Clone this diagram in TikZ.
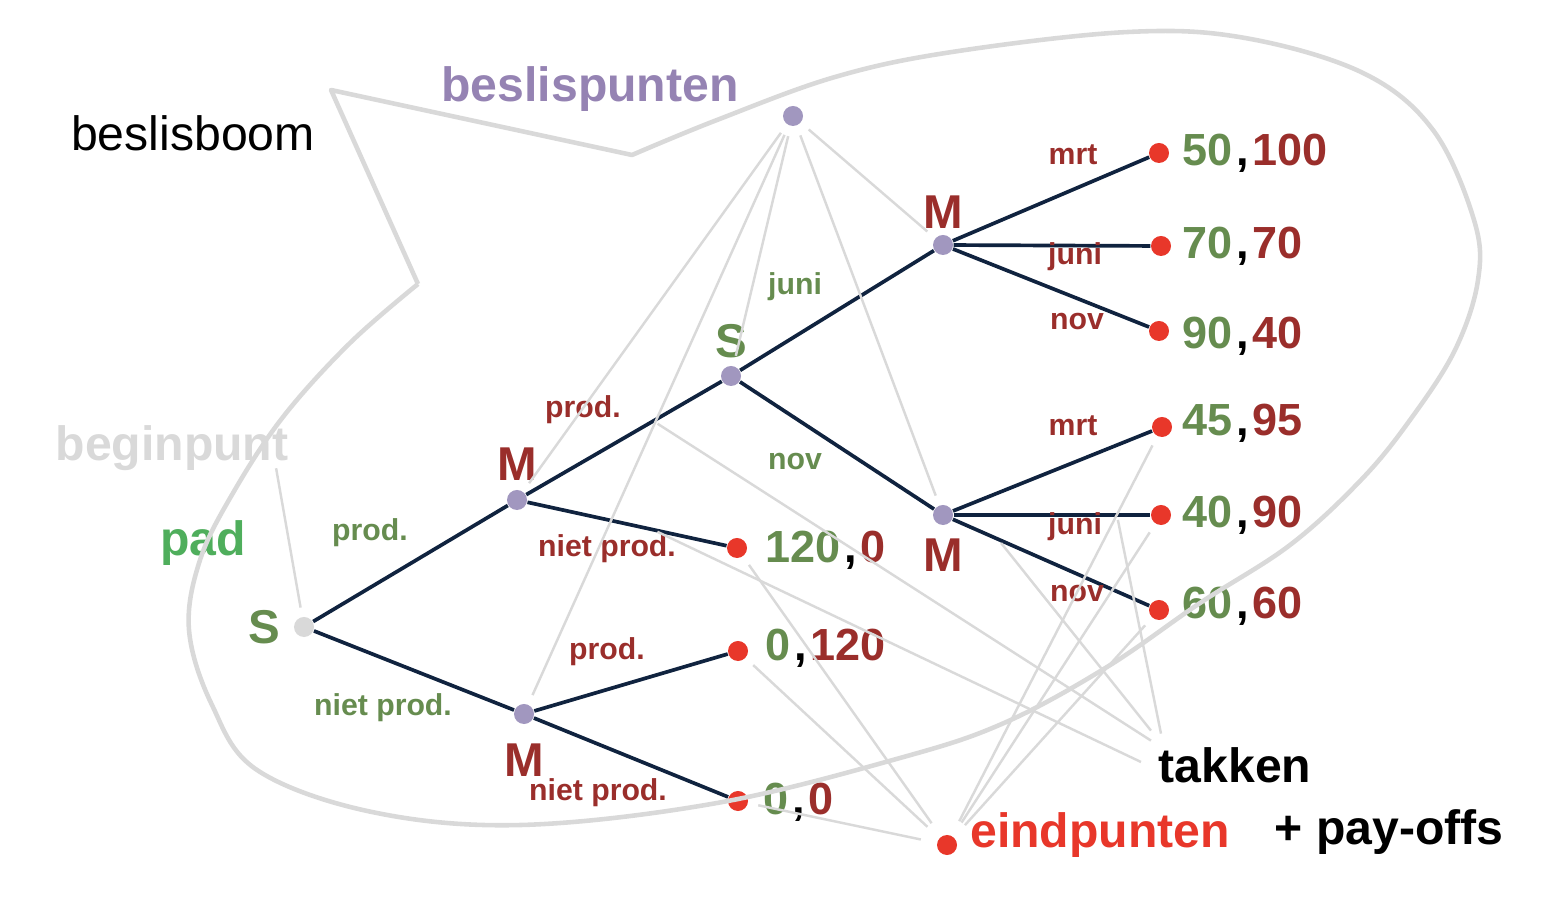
\documentclass[tikz,border=0pt]{standalone}
\usepackage{fontspec}
\setmainfont{Liberation Sans}
\usetikzlibrary{positioning}
\definecolor{navy}{HTML}{10233F}
\definecolor{lila}{HTML}{A197BF}
\definecolor{lilatekst}{HTML}{9583B3}
\definecolor{rood}{HTML}{E8372A}
\definecolor{sgroen}{HTML}{668C4F}
\definecolor{mrood}{HTML}{9A2E2B}
\definecolor{padgroen}{HTML}{4FAE5C}
\definecolor{grijs}{HTML}{D9D9D9}
\newcommand{\uitb}[2]{\textcolor{sgroen}{#1}\kern0.08em,\kern0.08em\textcolor{mrood}{#2}}
\tikzset{
  beslis/.style={circle,fill=lila,inner sep=0pt,minimum size=0.2cm},
  eind/.style={circle,fill=rood,inner sep=0pt,minimum size=0.2cm},
  begin/.style={circle,fill=grijs,inner sep=0pt,minimum size=0.2cm},
  tak/.style={navy,line width=1.05pt},
  wijzer/.style={grijs,line width=0.7pt},
  bel/.style={grijs,line width=1.3pt,line join=round},
  klein/.style={font=\fontsize{8.6}{10}\selectfont\bfseries,inner sep=0pt},
  groot/.style={font=\fontsize{13.7}{16}\selectfont\bfseries,inner sep=0pt},
  speler/.style={font=\fontsize{13.5}{15}\selectfont\bfseries,inner sep=0pt},
  pay/.style={font=\fontsize{12.8}{15}\selectfont\bfseries,inner sep=0pt,anchor=west},
}
\begin{document}
\begin{tikzpicture}[x=0.01cm,y=-0.01cm]
\useasboundingbox (0,0) rectangle (1558,898);
% knopen
\node[begin] (S0) at (304,627) {};
\node[beslis] (M1) at (517,500) {};
\node[beslis] (M2) at (524,714) {};
\node[beslis] (S1) at (731,376) {};
\node[beslis] (M3) at (943,245) {};
\node[beslis] (M4) at (943,515) {};
\node[eind] (e1) at (1159,153) {};
\node[eind] (e2) at (1161,246) {};
\node[eind] (e3) at (1159,331) {};
\node[eind] (e4) at (1162,427) {};
\node[eind] (e5) at (1161,515) {};
\node[eind] (e6) at (1159,610) {};
\node[eind] (e7) at (737,548) {};
\node[eind] (e8) at (738,651) {};
\node[eind] (e9) at (738,801) {};
\node[beslis] (bp) at (793,116) {};
\node[eind] (ep) at (947,845) {};
% takken
\draw[tak] (S0) -- (M1);
\draw[tak] (S0) -- (M2);
\draw[tak] (M1) -- coordinate[pos=0.65] (t1) (S1);
\draw[tak] (M1) -- coordinate[pos=0.63] (t2) (e7);
\draw[tak] (M2) -- (e8);
\draw[tak] (M2) -- (e9);
\draw[tak] (S1) -- (M3);
\draw[tak] (S1) -- (M4);
\foreach \e in {e1,e2,e3}
  \draw[tak] (M3) -- (\e);
\draw[tak] (M4) -- (e4);
\draw[tak] (M4) -- coordinate[pos=0.83] (t4) (e5);
\draw[tak] (M4) -- coordinate[pos=0.23] (t3) (e6);
% spelers
\node[speler,sgroen,left=0.12cm of S0] (lS0) {S};
\node[speler,mrood,above=0.08cm of M1] (lM1) {M};
\node[speler,mrood,below=0.18cm of M2] (lM2) {M};
\node[speler,sgroen,above=0.07cm of S1] (lS1) {S};
\node[speler,mrood,above=0.05cm of M3] (lM3) {M};
\node[speler,mrood,below=0.12cm of M4] (lM4) {M};
% labels bij de takken
\node[klein,sgroen] (k1) at (370,533) {prod.};
\node[klein,sgroen] (k2) at (383,708) {niet prod.};
\node[klein,mrood] (k3) at (583,410) {prod.};
\node[klein,mrood] (k4) at (607,549) {niet prod.};
\node[klein,mrood] (k5) at (607,652) {prod.};
\node[klein,mrood] (k6) at (598,793) {niet prod.};
\node[klein,sgroen] (k7) at (795,287) {juni};
\node[klein,sgroen] (k8) at (795,462) {nov};
\node[klein,mrood] (k9) at (1073,155) {mrt};
\node[klein,mrood] (k10) at (1075,257) {juni};
\node[klein,mrood] (k11) at (1077,322) {nov};
\node[klein,mrood] (k12) at (1073,426) {mrt};
\node[klein,mrood] (k13) at (1075,527) {juni};
\node[klein,mrood] (k14) at (1077,594) {nov};
% pay-offs
\node[pay] (p1) at (1182,153) {\uitb{50}{100}};
\node[pay] (p2) at (1182,246) {\uitb{70}{70}};
\node[pay] (p3) at (1182,336) {\uitb{90}{40}};
\node[pay] (p4) at (1182,423) {\uitb{45}{95}};
\node[pay] (p5) at (1182,515) {\uitb{40}{90}};
\node[pay] (p6) at (1182,606) {\uitb{60}{60}};
\node[pay] (p7) at (765,550) {\uitb{120}{0}};
\node[pay] (p8) at (765,648) {\uitb{0}{120}};
\node[pay] (p9) at (763,802) {\uitb{0}{0}};
% begrippen
\node[inner sep=0pt,font=\fontsize{13.7}{16}\selectfont] (boom) at (193,133) {beslisboom};
\node[groot,lilatekst] (bpt) at (590,89) {beslispunten};
\node[groot,grijs] (bg) at (172,448) {beginpunt};
\node[groot,padgroen] (pad) at (203,543) {pad};
\node[groot] (tk) at (1235,765) {takken};
\node[groot,rood] (ept) at (1100,835) {eindpunten};
\node[groot] (po) at (1389,832) {+ pay-offs};
% wijzers
\foreach \d in {M1,M2,S1,M3,M4}
  \draw[wijzer,shorten <=0.1cm,shorten >=0.1cm] (bp) -- (\d);
\foreach \e in {e4,e5,e6,e7,e8,e9}
  \draw[wijzer,shorten <=0.1cm,shorten >=0.16cm] (\e) -- (ep);
\draw[wijzer,shorten >=0.09cm] ([shift={(-13,-3)}]bg.south east) -- (S0);
\draw[wijzer,shorten <=0.05cm] (t1) -- ([shift={(-7,-6)}]tk.north west);
\draw[wijzer,shorten <=0.05cm] (t2) -- ([shift={(-17,-3)}]tk.west);
\draw[wijzer,shorten <=0.05cm] (t3) -- ([shift={(-7,-16)}]tk.north west);
\draw[wijzer,shorten <=0.05cm] (t4) -- ([shift={(3,-13)}]tk.north west);
% ballon om de boom
\draw[bel] (418,284) -- (331,90) -- (632,155) -- plot[smooth,tension=0.6] coordinates {
  (632,155) (717,120) (835,77) (952,52) (1128,32) (1245,38) (1363,73) (1433,130)
  (1474,220) (1478,280) (1455,350) (1410,420) (1361,480) (1290,545) (1200,603)
  (1107,667) (1004,723) (900,758) (717,803) (521,825) (372,812) (257,770)
  (212,705) (189,630) (200,560) (233,493) (283,417) (350,343) (418,284)};
\end{tikzpicture}
\end{document}
